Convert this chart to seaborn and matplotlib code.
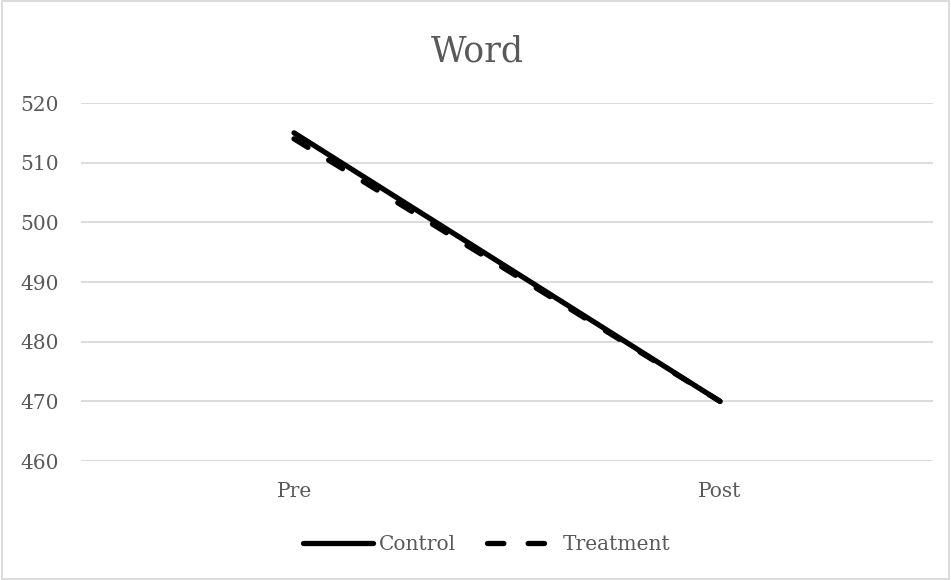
import matplotlib
matplotlib.use("Agg")
import matplotlib.pyplot as plt
from matplotlib.lines import Line2D
import seaborn as sns
import pandas as pd

# Word scores before and after, per group
phases = ["Pre", "Post"]
control = [515, 470]
treatment = [514, 470]
groups = ["Control", "Treatment"]
yticks = [460, 470, 480, 490, 500, 510, 520]

df = pd.DataFrame({
    "phase": phases * 2,
    "score": control + treatment,
    "group": [groups[0]] * 2 + [groups[1]] * 2,
})
df["pos"] = [0, 1, 0, 1]

sns.set_theme(style="white")
plt.rcParams["font.family"] = ["DejaVu Serif"]
plt.rcParams["lines.solid_capstyle"] = "round"
plt.rcParams["lines.dash_capstyle"] = "round"

text_color = "#595959"
grid_color = "#d9d9d9"
lw = 3.8
dash = (3.1, 4.6)

fig = plt.figure(figsize=(9.51, 5.80), dpi=100)
ax = fig.add_axes([81 / 951, 1 - 461 / 580, (933 - 81) / 951, (461 - 103) / 580])

sns.lineplot(
    data=df, x="pos", y="score", hue="group", style="group",
    palette={"Control": "black", "Treatment": "black"},
    dashes={"Control": "", "Treatment": dash},
    linewidth=lw, ax=ax, legend=False, sort=False,
)

ax.set_xlim(-0.5, 1.5)
ax.set_ylim(460, 520)
ax.set_yticks(yticks)
ax.set_yticklabels([str(v) for v in yticks], color=text_color, fontsize=14.5)
ax.set_xticks([0, 1])
ax.set_xticklabels(phases, color=text_color, fontsize=14.5)
ax.tick_params(axis="y", length=0, pad=16)
ax.tick_params(axis="x", length=0, pad=15)
ax.set_xlabel("")
ax.set_ylabel("")
ax.grid(axis="y", color=grid_color, linewidth=1.3)
ax.set_axisbelow(True)
for s in ax.spines.values():
    s.set_visible(False)

fig.text(0.502, 1 - 51 / 580, "Word", ha="center", va="center",
         fontsize=25, color=text_color)

handles = [
    Line2D([], [], color="black", lw=lw, solid_capstyle="round"),
    Line2D([], [], color="black", lw=lw, dashes=dash, dash_capstyle="round"),
]
leg = fig.legend(handles, groups, loc="center", bbox_to_anchor=(0.512, 1 - 545 / 580),
                 ncol=2, frameon=False, fontsize=14.5, handlelength=3.5,
                 handletextpad=0.3, columnspacing=1.5)
for t in leg.get_texts():
    t.set_color(text_color)

# outer chart border
fig.patches.append(plt.Rectangle((0.002, 0.002), 0.996, 0.996, transform=fig.transFigure,
                                 fill=False, edgecolor=grid_color, linewidth=1.3))

fig.savefig("out.png", dpi=100)
